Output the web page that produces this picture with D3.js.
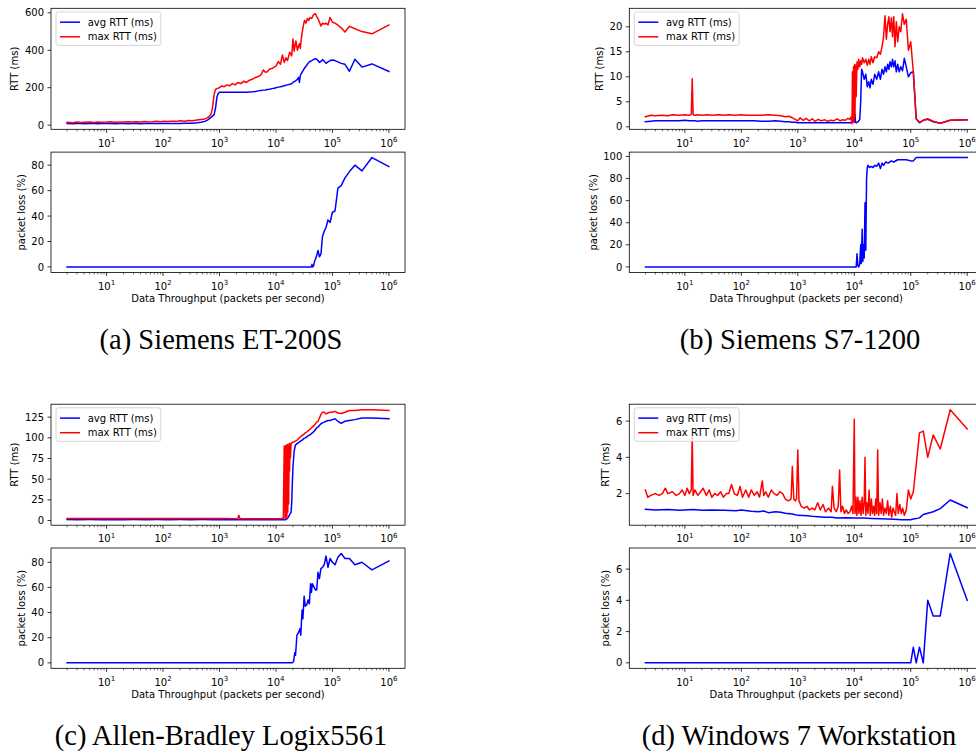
<!DOCTYPE html>
<html>
<head>
<meta charset="utf-8">
<script src="https://cdn.jsdelivr.net/npm/d3@7"></script>
<style>
  body { margin: 0; background: #fff; }
  svg text { font-family: "DejaVu Sans", sans-serif; fill: #000; }
  svg text.cap { font-family: "Liberation Serif", "Times New Roman", serif; }
</style>
</head>
<body>
<svg id="fig" width="976" height="753"></svg>
<script>
// ---------- (a) Siemens ET-200S ----------
var aX = [2,2.5,3,3.5,4,5,6,7,8,10, 12,14,17,20,24,28,33,40,47,55, 65,77,90,100,120,140,170,200,240,280,
  330,400,470,550,620,700,750,800,850,900, 950,1000,1100,1200,1350,1500,1700,1900,2100,2400,
  2700,3000,3400,3800,4300,4800,5400,6000,6500,7000, 7700,8500,9300,10000,11000,12000,13000,14000,15000,16000,
  17500,19000,20000,21000,22500,24000,25000,26000,27000,28000, 30000,32000,34000,36000,38000,40000,43000,46000,50000,52632,
  55556,58824,62500,66667,71429,76923,83333,90909,100000,111111, 125000,142857,166667,200000,250000,333333,500000,1000000];
var aAvg = [8,7,8,8,7,8,8,7,8,8, 8,7,8,8,7,8,8,7,8,8, 8,8,8,9,8,9,9,9,10,10,
  10,12,15,20,28,40,48,55,90,150, 170,175,176,175,176,175,176,175,176,176,
  175,176,177,178,180,183,185,187,188,190, 192,195,197,200,203,205,208,210,213,215,
  218,222,228,232,238,245,255,228,265,275, 290,305,315,325,335,340,345,350,355,352,
  345,335,340,350,342,330,338,345,348,345, 338,330,325,288,352,310,327,287];
var aMax = [15,13,16,14,15,16,14,17,15,16, 18,15,17,16,18,16,18,17,19,17, 18,20,18,20,19,21,20,23,21,25,
  23,27,30,33,40,55,90,160,190,195, 198,200,210,205,215,210,222,215,228,222,
  235,228,240,245,255,258,268,295,282,285, 300,302,310,315,340,325,375,335,360,345,
  390,370,460,395,450,400,420,435,410,460, 520,560,545,570,560,575,570,590,595,580,
  570,550,530,545,540,545,535,575,550,545, 535,520,498,528,515,500,488,535];
var aLoss = [[2,0],[1000,0],[10000,0],[40000,0],[42000,0],[43500,2],[45000,0],[46500,1],[48000,4],[50000,6],
  [52632,9],[55556,13],[58824,8],[62500,10],[66667,24],[71429,28],[76923,31],[83333,37],[90909,35],[100000,43],
  [111111,44],[125000,62],[142857,64],[166667,70],[200000,75],[250000,80],[333333,75.5],[500000,86],[1000000,79]];

// ---------- (b) Siemens S7-1200 ----------
var bX = [2,2.5,3,4,5,6,8,10,12,13, 13.5,14,15,17,20,25,30,40,50,60, 80,100,130,170,220,300,400,500,600,700,
  800,900,1000,1100,1250,1400,1600,1800,2000,2300, 2600,3000,3400,3800,4300,5000,5600,6300,7000,7700,
  8300,8800,9100,9300,9500,9700,9900,10100,10300,10500, 10800,11200,11600,12000,12500,13000,13500,14000,15000,16000,
  17000,18000,19000,20000,21500,23000,25000,27000,29000,31000, 33000,35000,37000,39000,41000,43000,45500,47500,50000,52632,
  55556,58824,62500,66667,71429,76923,83333,90909,100000,111111, 125000,142857,166667,200000,250000,333333,500000,1000000];
var bAvg = [1.0,1.1,1.2,1.2,1.2,1.2,1.2,1.3,1.2,1.2, 1.2,1.2,1.2,1.1,1.2,1.2,1.2,1.2,1.2,1.2,
  1.2,1.2,1.2,1.2,1.1,1.1,1.2,1.1,1.0,1.0, 0.9,0.9,0.8,0.8,0.8,0.8,0.8,0.8,0.8,0.8,
  0.8,0.8,0.8,0.8,0.8,0.8,0.8,0.8,0.8,0.8, 0.8,0.8,0.9,1.2,2.5,1.5,2.8,1.0,2.5,1.0,
  0.8,0.9,1.0,1.2,1.5,5.0,11.5,11.0,9.5,10.5, 8.0,9.0,7.8,9.5,8.5,10.5,9.5,11.0,9.5,11.5,
  10.5,12.0,11.0,12.5,11.5,13.0,12.0,13.5,12.0,13.2, 11.0,12.5,11.0,12.0,11.2,13.7,12.0,10.0,10.8,11.0,
  1.6,0.8,1.3,1.5,1.0,0.7,1.3,1.4];
var bMax = [2.0,2.3,2.2,2.3,2.2,2.4,2.3,2.4,2.3,2.5, 9.6,2.4,2.3,2.4,2.3,2.4,2.3,2.4,2.3,2.4,
  2.3,2.4,2.3,2.3,2.3,2.4,2.3,2.2,2.0,2.1, 1.8,1.5,1.2,1.8,1.3,1.7,1.2,1.6,1.1,1.5,
  1.2,1.4,1.1,1.3,1.2,1.6,1.2,1.4,1.3,1.7, 1.5,2.0,0.6,11.0,1.0,12.0,0.8,12.5,2.0,12.3,
  6.0,13.0,11.5,13.5,12.0,13.2,12.5,13.8,12.8,13.5, 12.3,13.5,12.5,14.0,12.8,14.0,13.8,15.0,14.5,16.0,
  18.0,22.2,17.5,20.5,22.0,19.0,21.8,18.0,22.0,16.0, 21.0,17.0,20.0,19.0,22.6,20.5,21.5,15.3,17.0,11.0,
  1.6,0.9,1.3,1.6,1.1,0.7,1.3,1.4];
var bLoss = [[2,0],[1000,0],[10000,0],[10800,0],[11200,12],[11600,1],[12000,0],[12500,3],[13000,20],[13300,3],
  [13800,34],[14200,5],[14500,20],[15000,8],[15500,58],[16000,15],[16500,80],[17000,90],[17500,92],[18500,90],
  [20000,91],[21500,90],[23000,92],[25000,91],[27000,94],[29000,89],[31000,94],[33000,92],[36000,95],[40000,94],
  [45000,96],[50000,95],[58824,97],[71429,97],[83333,97],[100000,96],[111111,96],[125000,99],[142857,99],[200000,99],
  [333333,99],[500000,99],[1000000,99]];

// ---------- (c) Allen-Bradley Logix5561 ----------
var cX = [2,3,5,8,12,20,30,50,80,120, 200,300,500,800,1200,1800,2100,2200,2300,2600,
  3500,5000,7000,10000,12000,13500,14000,14500,14800,15000, 15300,15600,15900,16200,16500,16800,17100,17400,17700,18100,
  18500,19000,19500,20000,21000,22000,23500,25000,27000,29000, 31000,33000,35000,38000,41000,44000,47500,50000,52632,55556,
  58824,62500,66667,71429,76923,83333,90909,100000,111111,125000, 142857,166667,200000,250000,333333,500000,1000000];
var cAvg = [1.2,1.0,1.1,1.0,1.2,1.0,1.1,1.0,1.1,1.0, 1.1,1.0,1.1,1.0,1.0,1.1,1.0,1.0,1.0,1.0,
  1.0,1.0,1.0,1.0,1.0,1.0,1.0,1.0,1.0,1.2, 1.5,2.0,2.5,3.0,4.0,5.0,6.0,7.0,8.0,9.0,
  10,22,45,65,84,91,93,94,96,97, 99,100,101,103,104,106,108,110,112,113,
  115,117,118,119,120,121,121,122,123,120, 117.5,120,121,122,124,124,123];
var cMax = [2.5,2.5,2.4,2.5,2.5,2.4,2.5,2.4,2.5,2.4, 2.5,2.4,2.5,2.4,2.5,2.3,2.5,6.5,2.2,2.0,
  2.0,2.0,2.1,2.0,2.0,3.0,90,2,90,3, 91,5,92,10,91,20,93,60,93,76,
  93,94,94,95,95,96,97,99,101,103, 104,106,107,109,111,113,115,117,119,120,
  124,128,131,131,129,130,131,131,132,130, 129.5,131,133,133,134,134,133];
var cLoss = [[2,0],[1000,0],[10000,0],[19500,0],[20500,1],[21500,8],[22200,6],[23500,22],[25000,24],[26500,27],
  [27500,22],[29000,42],[30000,35],[31500,53],[33000,45],[35000,46],[37000,50],[39000,47],[41000,63],[42500,56],
  [44000,63],[47500,60],[50000,58],[52632,58],[55556,72],[58824,67],[62500,75],[66667,76],[71429,78],[76923,85],
  [83333,76],[90909,83],[100000,80],[111111,78],[125000,84],[142857,87],[166667,83],[200000,83],[250000,78],[333333,80],
  [500000,74],[1000000,81]];

// ---------- (d) Windows 7 Workstation ----------
var dX = [2,2.2,2.5,3,3.5,4,4.5,5,6,7, 8,9,10,11,12,13,13.5,14,15,17, 19,21,24,27,30,34,38,43,48,54,
  60,67,75,85,95,105,120,135,150,170, 190,210,235,250,270,300,340,380,430,480, 540,600,680,760,800,850,900,950,1000,1050,
  1150,1300,1450,1600,1800,2000,2250,2500,2800,3100, 3500,3900,4100,4400,4800,5200,5500,5800,6200,6700,
  7200,7800,8400,9000,9500,10000,10300,10700,11100,11600, 12100,12600,13200,13800,14400,15000,15500,16000,16700,17500,
  18300,19200,20100,21000,22000,23000,24000,25000,26000,27000, 28500,30000,31500,33000,35000,37000,39000,41000,43500,46000,
  48500,51000,54000,57000,60000,64000,68000,72000,76923,83333, 90909,100000,111111,125000,142857,166667,200000,250000,333333,500000,
  1000000];
var dMax = [2.2,1.8,1.9,2.0,1.9,2.0,2.3,2.0,2.1,1.9, 2.0,2.2,1.9,2.3,2.0,2.2,5.2,1.9,2.2,1.9,
  2.1,2.3,1.9,2.2,1.8,2.0,1.9,2.1,1.8,2.0, 2.0,2.5,2.0,1.9,2.4,1.8,2.2,1.8,2.2,1.9,
  2.1,1.8,2.7,1.9,2.1,1.8,2.2,2.0,1.9,2.1, 2.0,1.7,1.6,1.7,3.5,1.7,1.6,1.7,4.4,1.6,
  1.3,1.2,1.3,1.1,1.2,1.1,1.5,1.1,1.4,1.0, 1.2,1.0,2.4,1.2,1.0,1.3,3.3,1.0,1.3,0.9,
  1.1,0.9,1.0,1.3,0.9,6.1,0.9,1.8,0.8,1.8, 0.9,1.6,0.8,1.8,0.9,1.5,4.0,0.8,1.5,0.9,
  2.2,0.8,1.7,0.9,1.3,0.8,1.7,0.9,4.4,0.8, 1.5,0.9,1.7,0.8,1.2,0.9,1.6,0.8,1.3,0.7,
  1.2,1.0,0.8,2.0,0.9,1.4,0.9,1.2,0.8,1.1, 2.2,1.7,2.1,3.6,5.35,5.45,4.0,5.24,4.46,6.63,
  5.57];
var dAvg = [[2,1.13],[3,1.1],[5,1.12],[8,1.08],[10,1.1],[14,1.12],[20,1.08],[30,1.1],[50,1.08],[80,1.06],
  [100,1.1],[150,1.02],[200,1.0],[250,1.04],[300,0.95],[400,1.0],[500,0.97],[600,0.92],[800,0.88],[1000,0.8],
  [1500,0.78],[2000,0.73],[3000,0.7],[4000,0.7],[5000,0.66],[7000,0.67],[10000,0.65],[15000,0.65],[20000,0.63],[30000,0.61],
  [50000,0.58],[70000,0.56],[100000,0.56],[111111,0.6],[125000,0.62],[142857,0.66],[166667,0.85],[200000,0.92],[250000,1.0],[333333,1.17],
  [500000,1.65],[1000000,1.22]];
var dLoss = [[2,0],[1000,0],[10000,0],[100000,0],[111111,1],[125000,0],[142857,1],[166667,0],[200000,4],[250000,3],
  [333333,3],[500000,7],[1000000,4]];

// tick values / labels
var xMajor = [10, 100, 1000, 10000, 100000, 1000000];
var xExp = ["1", "2", "3", "4", "5", "6"];
var aTopTicks = [0, 200, 400, 600];
var bTopTicks = [0, 5, 10, 15, 20];
var cTopTicks = [0, 25, 50, 75, 100, 125];
var dTopTicks = [2, 4, 6];
var abcLossTicks = [0, 20, 40, 60, 80];
var bLossTicks = [0, 20, 40, 60, 80, 100];
var dLossTicks = [0, 2, 4, 6];
var seriesNames = ["avg RTT (ms)", "max RTT (ms)"];
var captions = ["(a) Siemens ET-200S", "(b) Siemens S7-1200", "(c) Allen-Bradley Logix5561", "(d) Windows 7 Workstation"];

var svg = d3.select("#fig");
var PW = 354;
var clipN = 0;

function drawPanel(o) {
  var g = svg.append("g").attr("transform", "translate(" + o.left + "," + o.top + ")");
  var allX = [], allY = [];
  o.series.forEach(function(s) { s.pts.forEach(function(p) { allX.push(p[0]); allY.push(p[1]); }); });
  var lx0 = Math.log10(d3.min(allX)), lx1 = Math.log10(d3.max(allX)), mx = 0.05 * (lx1 - lx0);
  var x = d3.scaleLog().domain([Math.pow(10, lx0 - mx), Math.pow(10, lx1 + mx)]).range([0, PW]);
  var y0 = d3.min(allY), y1 = d3.max(allY), my = 0.05 * (y1 - y0);
  var y = d3.scaleLinear().domain([y0 - my, y1 + my]).range([o.h, 0]);

  var id = "clip" + (clipN++);
  g.append("clipPath").attr("id", id).append("rect").attr("width", PW).attr("height", o.h);

  var line = d3.line().x(function(d) { return x(d[0]); }).y(function(d) { return y(d[1]); });
  var lg = g.append("g").attr("clip-path", "url(#" + id + ")");
  o.series.forEach(function(s) {
    lg.append("path").datum(s.pts).attr("d", line)
      .attr("fill", "none").attr("stroke", s.color).attr("stroke-width", 1.5)
      .attr("stroke-linejoin", "round").attr("stroke-linecap", "square");
  });

  // x ticks
  var minors = x.ticks().filter(function(t) { return Math.abs(Math.log10(t) - Math.round(Math.log10(t))) > 1e-6; });
  g.selectAll(".xmin").data(minors).enter().append("line")
    .attr("x1", function(d) { return x(d); }).attr("x2", function(d) { return x(d); })
    .attr("y1", o.h).attr("y2", o.h + 2).attr("stroke", "#000").attr("stroke-width", 0.6);
  xMajor.forEach(function(t, i) {
    g.append("line").attr("x1", x(t)).attr("x2", x(t)).attr("y1", o.h).attr("y2", o.h + 3.5)
      .attr("stroke", "#000").attr("stroke-width", 0.8);
    var tx = g.append("text").attr("x", x(t)).attr("y", o.h + 17.3).attr("text-anchor", "middle").style("font-size", "10px");
    tx.append("tspan").text("10");
    tx.append("tspan").attr("dy", -4.2).style("font-size", "7px").text(xExp[i]);
  });

  // y ticks
  var yl = g.append("g");
  o.yTicks.forEach(function(t) {
    g.append("line").attr("x1", -3.5).attr("x2", 0).attr("y1", y(t)).attr("y2", y(t))
      .attr("stroke", "#000").attr("stroke-width", 0.8);
    yl.append("text").attr("x", -7).attr("y", y(t)).attr("dy", "0.36em")
      .attr("text-anchor", "end").style("font-size", "10px").text(t);
  });
  var tw = yl.node().getBBox().width;
  g.append("text").attr("transform", "translate(" + (-13.6 - tw) + "," + (o.h / 2) + ") rotate(-90)")
    .attr("text-anchor", "middle").style("font-size", "10px").text(o.ylabel);

  if (o.xlabel) {
    g.append("text").attr("x", PW / 2).attr("y", o.h + 30).attr("text-anchor", "middle")
      .style("font-size", "10px").text(o.xlabel);
  }

  // frame
  g.append("rect").attr("width", PW).attr("height", o.h).attr("fill", "none")
    .attr("stroke", "#000").attr("stroke-width", 0.8);

  if (o.legend) {
    var lgd = g.append("g").attr("transform", "translate(5,3.6)");
    var box = lgd.append("rect").attr("height", 33.5).attr("rx", 2.5)
      .attr("fill", "#fff").attr("fill-opacity", 0.8).attr("stroke", "#cccccc").attr("stroke-width", 0.8);
    var maxW = 0;
    o.series.forEach(function(s, i) {
      var yy = 10.3 + i * 14.6;
      lgd.append("line").attr("x1", 4).attr("x2", 24).attr("y1", yy).attr("y2", yy)
        .attr("stroke", s.color).attr("stroke-width", 1.5);
      var t = lgd.append("text").attr("x", 31.7).attr("y", yy).attr("dy", "0.36em")
        .style("font-size", "10px").text(s.name);
      maxW = Math.max(maxW, t.node().getComputedTextLength());
    });
    box.attr("width", 31.7 + maxW + 4);
  }
}

function subfigure(left, top, X, avg, max, avgPts, loss, topTicks, lossTicks) {
  var avgSeries = avgPts ? avgPts : d3.zip(X, avg);
  drawPanel({
    left: left, top: top, h: 121, yTicks: topTicks, ylabel: "RTT (ms)", legend: true,
    series: [
      { name: seriesNames[0], color: "#0000ff", pts: avgSeries },
      { name: seriesNames[1], color: "#ff0000", pts: d3.zip(X, max) }
    ]
  });
  drawPanel({
    left: left, top: top + 143.8, h: 120.3, yTicks: lossTicks, ylabel: "packet loss (%)",
    xlabel: "Data Throughput (packets per second)",
    series: [{ name: "loss", color: "#0000ff", pts: loss }]
  });
}

subfigure(51, 8.3, aX, aAvg, aMax, null, aLoss, aTopTicks, abcLossTicks);
subfigure(629.3, 8.3, bX, bAvg, bMax, null, bLoss, bTopTicks, bLossTicks);
subfigure(51, 404.2, cX, cAvg, cMax, null, cLoss, cTopTicks, abcLossTicks);
subfigure(629.3, 404.2, dX, null, dMax, dAvg, dLoss, dTopTicks, dLossTicks);

var capPos = [[221, 349], [800, 349], [221, 745], [799, 745]];
captions.forEach(function(c, i) {
  svg.append("text").attr("class", "cap").attr("x", capPos[i][0]).attr("y", capPos[i][1])
    .attr("text-anchor", "middle").style("font-size", "28.5px").text(c);
});
</script>
</body>
</html>
